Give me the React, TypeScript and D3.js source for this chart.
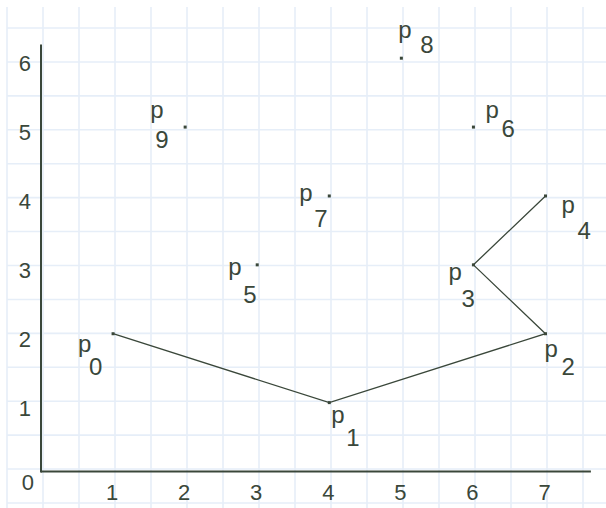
import React from "react";
import * as d3 from "d3";

// ---- data ----
const pointIds = [0, 1, 2, 3, 4, 5, 6, 7, 8, 9];
const xValues = [1, 4, 7, 6, 7, 3, 6, 4, 5, 2];
const yValues = [2, 1, 2, 3, 4, 3, 5, 4, 6, 5];
const pathOrder = [0, 1, 2, 3, 4];
const xTicks = [1, 2, 3, 4, 5, 6, 7];
const yTicks = [1, 2, 3, 4, 5, 6];
const originLabel = "0";

// label placement relative to each point: [p dx, p dy, sub dx, sub dy]
const labelOffsets: number[][] = [
  [-35, 18.5, -24, 41],
  [2, 20.5, 17, 43],
  [-1, 23.5, 16, 41],
  [-25, 15.5, -12, 42],
  [16, 17.5, 32, 43],
  [-29, 10.5, -14, 38],
  [12, -9.5, 28, 10],
  [-30, 5.5, -15, 31],
  [-3, -20.5, 19, -5],
  [-35, -9.5, -30, 21],
];

const W = 606;
const H = 508;
const INK = "#3a473a";
const GRID = "#e6eef8";
const FONT = "'Liberation Sans', Arial, sans-serif";

export default function App() {
  const x = d3.scaleLinear().domain([0, 7]).range([41, 545.5]);
  const y = d3.scaleLinear().domain([0, 6]).range([471.5, 58.2]);
  const gx = d3.scaleLinear().domain([-0.5, 7.5]).range([7, 583]);
  const gy = d3.scaleLinear().domain([-0.5, 6.5]).range([503, 28]);
  const gridXs = d3.range(-0.5, 8.01, 0.5);
  const gridYs = d3.range(-0.5, 7.01, 0.5);

  const line = d3
    .line<number>()
    .x((i) => x(xValues[i]))
    .y((i) => y(yValues[i]));

  return (
    <svg
      width={W}
      height={H}
      style={{ position: "absolute", left: 0, top: 0, background: "#fff" }}
    >
      <g>
        {gridXs.map((v) => (
          <line
            key={"gx" + v}
            x1={gx(v)}
            x2={gx(v)}
            y1={7}
            y2={H}
            stroke={GRID}
            strokeWidth={1.6}
          />
        ))}
        {gridYs.map((v) => (
          <line
            key={"gy" + v}
            x1={7}
            x2={W}
            y1={gy(v)}
            y2={gy(v)}
            stroke={GRID}
            strokeWidth={1.6}
          />
        ))}
      </g>
      {/* axes */}
      <line x1={x(0)} x2={x(0)} y1={y(6.2)} y2={y(0) + 1} stroke={INK} strokeWidth={2} />
      <line x1={x(0)} x2={x(7.63)} y1={y(0)} y2={y(0)} stroke={INK} strokeWidth={2} />
      {/* tick labels */}
      <g fontFamily={FONT} fontSize={22} fill={INK}>
        {yTicks.map((v) => (
          <text key={"yt" + v} x={31} y={y(v) + 13} textAnchor="end">
            {v}
          </text>
        ))}
        {xTicks.map((v) => (
          <text key={"xt" + v} x={x(v) - 1} y={500} textAnchor="middle">
            {v}
          </text>
        ))}
        <text x={34} y={490} textAnchor="end">
          {originLabel}
        </text>
      </g>
      {/* polyline */}
      <path d={line(pathOrder) || ""} fill="none" stroke={INK} strokeWidth={1.3} />
      {/* points */}
      {pointIds.map((i) => (
        <rect
          key={"pt" + i}
          x={x(xValues[i]) - 1.5}
          y={y(yValues[i]) - 1.5}
          width={3}
          height={3}
          fill={INK}
        />
      ))}
      {/* labels */}
      <g fontFamily={FONT} fontSize={24} fill={INK}>
        {pointIds.map((i) => {
          const o = labelOffsets[i];
          const px = x(xValues[i]);
          const py = y(yValues[i]);
          return (
            <g key={"lb" + i}>
              <text x={px + o[0]} y={py + o[1]}>p</text>
              <text x={px + o[2]} y={py + o[3]}>{String(i)}</text>
            </g>
          );
        })}
      </g>
    </svg>
  );
}
